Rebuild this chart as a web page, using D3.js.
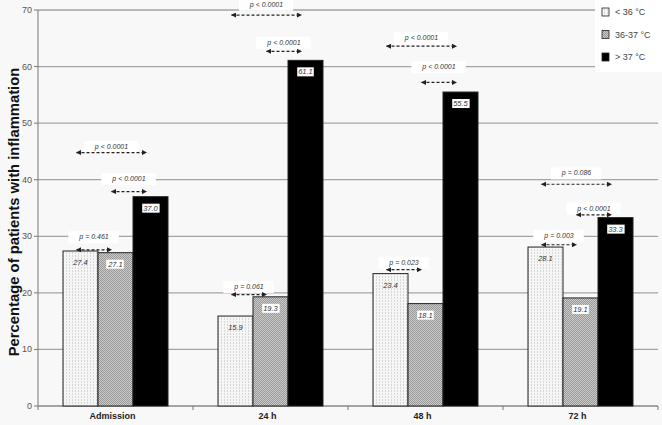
<!DOCTYPE html>
<html>
<head>
<meta charset="utf-8">
<script src="https://cdn.jsdelivr.net/npm/d3@7"></script>
<style>
  body { margin: 0; background: #f8f8f8; }
  svg { display: block; font-family: "Liberation Sans", Arial, sans-serif; }
</style>
</head>
<body>
<svg id="chart" width="662" height="425"></svg>
<script>
// data
const categories = ["Admission", "24 h", "48 h", "72 h"];
const series = ["< 36 °C", "36-37 °C", "> 37 °C"];
const values = [
  [27.4, 27.1, 37.0],
  [15.9, 19.3, 61.1],
  [23.4, 18.1, 55.5],
  [28.1, 19.1, 33.3]
];
const yTicks = [0, 10, 20, 30, 40, 50, 60, 70];

// p-value comparisons: category index, from bar, to bar, text, arrow level, label level
const pCat = [0, 0, 0, 1, 1, 1, 2, 2, 2, 3, 3, 3];
const pFrom = [0, 1, 0, 0, 1, 0, 0, 1, 0, 0, 1, 0];
const pTo = [1, 2, 2, 1, 2, 2, 1, 2, 2, 1, 2, 2];
const pText = ["p = 0.461", "p < 0.0001", "p < 0.0001",
               "p = 0.061", "p < 0.0001", "p < 0.0001",
               "p = 0.023", "p < 0.0001", "p < 0.0001",
               "p = 0.003", "p < 0.0001", "p = 0.086"];
const pArrow = [27.6, 37.9, 44.8, 19.7, 62.7, 69.1, 24.1, 57.2, 63.6, 28.5, 33.8, 39.2];
const pLabel = [29.9, 40.2, 45.9, 21.1, 64.3, 71.0, 25.4, 60.0, 65.1, 30.2, 35.0, 41.2];

const svg = d3.select("#chart");
const mLeft = 38, mRight = 658, mTop = 10, mBottom = 406;

const y = d3.scaleLinear().domain([0, 70]).range([mBottom, mTop]);
const x0 = d3.scaleBand().domain(categories).range([mLeft, mRight]);
const x1 = d3.scaleBand().domain(series).range([25, x0.bandwidth() - 25]);
const bw = x1.bandwidth();

// patterns
const defs = svg.append("defs");
const p1 = defs.append("pattern").attr("id", "dots").attr("patternUnits", "userSpaceOnUse")
  .attr("width", 3).attr("height", 3);
p1.append("rect").attr("width", 3).attr("height", 3).attr("fill", "#f6f6f6");
p1.append("rect").attr("x", 1).attr("width", 1).attr("height", 2).attr("fill", "#d6d6d6");
const p2 = defs.append("pattern").attr("id", "checks").attr("patternUnits", "userSpaceOnUse")
  .attr("width", 2).attr("height", 2);
p2.append("rect").attr("width", 2).attr("height", 2).attr("fill", "#cbcbcb");
p2.append("rect").attr("width", 1).attr("height", 1).attr("fill", "#989898");
p2.append("rect").attr("x", 1).attr("y", 1).attr("width", 1).attr("height", 1).attr("fill", "#989898");
const fills = ["url(#dots)", "url(#checks)", "#000"];

defs.append("marker").attr("id", "head").attr("viewBox", "0 -5 10 10")
  .attr("refX", 9).attr("refY", 0).attr("markerWidth", 5).attr("markerHeight", 5)
  .attr("markerUnits", "userSpaceOnUse").attr("orient", "auto-start-reverse")
  .append("path").attr("d", "M0,-5L10,0L0,5Z").attr("fill", "#222");

// gridlines
svg.append("g").selectAll("line").data(yTicks.filter(d => d > 0)).enter().append("line")
  .attr("x1", mLeft).attr("x2", mRight)
  .attr("y1", d => y(d)).attr("y2", d => y(d))
  .attr("stroke", "#a4a4a4").attr("stroke-width", 1.3);

// y axis
svg.append("line").attr("x1", mLeft).attr("x2", mLeft).attr("y1", mTop).attr("y2", mBottom)
  .attr("stroke", "#777").attr("stroke-width", 1);
svg.append("g").selectAll("line").data(yTicks).enter().append("line")
  .attr("x1", mLeft - 4).attr("x2", mLeft).attr("y1", d => y(d)).attr("y2", d => y(d))
  .attr("stroke", "#777");
svg.append("g").selectAll("text").data(yTicks).enter().append("text")
  .attr("x", mLeft - 6).attr("y", d => y(d) + 3)
  .attr("text-anchor", "end").attr("font-size", 9).attr("fill", "#555")
  .text(d => d);

svg.append("text")
  .attr("transform", "translate(19,212) rotate(-90)")
  .attr("text-anchor", "middle").attr("font-size", 14.8).attr("font-weight", "bold")
  .attr("fill", "#111")
  .text("Percentage of patients with inflammation");

// x axis
svg.append("line").attr("x1", mLeft).attr("x2", mRight).attr("y1", mBottom).attr("y2", mBottom)
  .attr("stroke", "#888").attr("stroke-width", 1.3);
const xTicks = categories.map(c => x0(c)).concat([mRight]);
svg.append("g").selectAll("line").data(xTicks).enter().append("line")
  .attr("x1", d => d).attr("x2", d => d).attr("y1", mBottom).attr("y2", mBottom + 4)
  .attr("stroke", "#777");
svg.append("g").selectAll("text").data(categories).enter().append("text")
  .attr("x", d => x0(d) + x0.bandwidth() / 2 - 3).attr("y", mBottom + 13)
  .attr("text-anchor", "middle").attr("font-size", 9).attr("font-weight", "bold")
  .attr("fill", "#222").text(d => d);

// bars
const groups = svg.append("g").selectAll("g").data(categories).enter().append("g")
  .attr("transform", d => "translate(" + x0(d) + ",0)");
groups.selectAll("rect").data((d, i) => values[i].map((v, j) => ({ v, j })))
  .enter().append("rect")
  .attr("x", d => x1(series[d.j])).attr("width", bw)
  .attr("y", d => y(d.v)).attr("height", d => mBottom - y(d.v))
  .attr("fill", d => fills[d.j]).attr("stroke", "#222").attr("stroke-width", 1);

// value labels
groups.each(function (c, i) {
  const g = d3.select(this);
  values[i].forEach((v, j) => {
    const cx = x1(series[j]) + bw / 2;
    const t = g.append("text").attr("x", cx).attr("y", y(v) + 14)
      .attr("text-anchor", "middle").attr("font-size", 7.5).attr("font-style", "italic")
      .attr("fill", "#333").text(v.toFixed(1));
    const b = t.node().getBBox();
    if (j > 0) {
      g.insert("rect", "text:last-child").attr("x", b.x - 1).attr("y", b.y)
        .attr("width", b.width + 2).attr("height", b.height).attr("fill", "#fff");
    }
  });
});

// p-value annotations
const ann = svg.append("g");
pCat.forEach((c, k) => {
  const gx = x0(categories[c]);
  const xa = gx + x1(series[pFrom[k]]) + bw / 2 - 4;
  const xb = gx + x1(series[pTo[k]]) + bw / 2 - 4;
  const mid = (xa + xb) / 2;
  const t = ann.append("text").attr("x", mid).attr("y", y(pLabel[k]) + 2.5)
    .attr("text-anchor", "middle").attr("font-size", 7).attr("font-style", "italic")
    .attr("fill", "#333").text(pText[k]);
  const b = t.node().getBBox();
  ann.insert("rect", "text:last-child").attr("x", b.x - 10).attr("y", b.y - 2)
    .attr("width", b.width + 20).attr("height", b.height + 4).attr("fill", "#fff");
  ann.append("line").attr("x1", xa).attr("x2", xb)
    .attr("y1", y(pArrow[k])).attr("y2", y(pArrow[k]))
    .attr("stroke", "#222").attr("stroke-width", 1.2).attr("stroke-dasharray", "3,2")
    .attr("marker-start", "url(#head)").attr("marker-end", "url(#head)");
});

// legend
const leg = svg.append("g");
leg.append("rect").attr("x", 595).attr("y", 0).attr("width", 67).attr("height", 72).attr("fill", "#fff");
series.forEach((s, j) => {
  const ly = 8 + j * 22.5;
  leg.append("rect").attr("x", 602).attr("y", ly).attr("width", 7).attr("height", 8)
    .attr("fill", fills[j]).attr("stroke", "#222").attr("stroke-width", 0.8);
  leg.append("text").attr("x", 615).attr("y", ly + 7).attr("font-size", 9)
    .attr("fill", "#444").text(s);
});
</script>
</body>
</html>
